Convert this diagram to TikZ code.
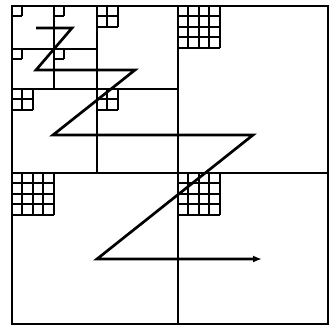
\documentclass[tikz,border=0pt]{standalone}
\usetikzlibrary{arrows.meta}
\tikzset{>={Latex[length=9pt,width=7pt]}}
\tikzset{
  border/.style={line width=2.9pt},
  gridline/.style={line width=2pt},
  zpath/.style={line width=2.7pt, line join=miter}
}
\def\cellsz{10.4}
\newcommand{\cellgrid}[3]{%
  \foreach \k in {0,...,#3}{
    \draw[gridline] (#1+\k*\cellsz,#2) -- (#1+\k*\cellsz,#2+#3*\cellsz);
    \draw[gridline] (#1,#2+\k*\cellsz) -- (#1+#3*\cellsz,#2+\k*\cellsz);
  }}

\begin{document}
\begin{tikzpicture}[x=1pt, y=-1pt]
        \useasboundingbox (0,0) rectangle (331,328);
        \cellgrid{12}{6}{1}
        \cellgrid{54}{6}{1}
        \cellgrid{12}{49}{1}
        \cellgrid{54}{49}{1}
        \cellgrid{97}{6}{2}
        \cellgrid{12}{89}{2}
        \cellgrid{97}{89}{2}
        \cellgrid{178}{6}{4}
        \cellgrid{12}{173}{4}
        \cellgrid{178}{173}{4}
        \draw[border] (12,6) rectangle (328,324);
        \draw[border] (178,6) -- (178,324);
        \draw[border] (12,173) -- (328,173);
        \draw[border] (97,6) -- (97,173);
        \draw[border] (12,89) -- (178,89);
        \draw[border] (54,6) -- (54,89);
        \draw[border] (12,49) -- (97,49);
        \coordinate (z1) at (36,28);
        \coordinate (z2) at (72,28);
        \coordinate (z3) at (36,70);
        \coordinate (z4) at (135,70);
        \coordinate (z5) at (53,135);
        \coordinate (z6) at (253,135);
        \coordinate (z7) at (97,259);
        \coordinate (z8) at (262,259);
        \draw[zpath, ->] (z1) -- (z2) -- (z3) -- (z4) -- (z5) -- (z6) -- (z7) -- (z8);
      \end{tikzpicture}
\end{document}
